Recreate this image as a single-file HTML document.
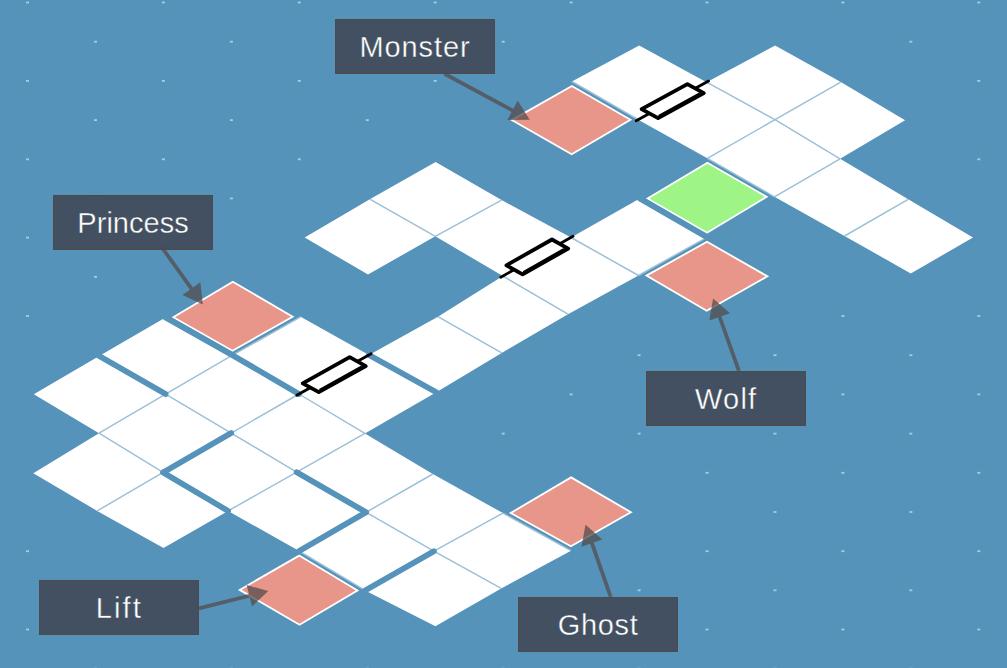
<!DOCTYPE html>
<html><head><meta charset="utf-8"><style>
html,body{margin:0;padding:0;}
body{width:1007px;height:668px;overflow:hidden;background:#5593bb;position:relative;font-family:"Liberation Sans",sans-serif;}
svg{position:absolute;left:0;top:0;}
.lb{position:absolute;width:160px;height:55px;background:rgba(65,76,92,0.95);color:#ffffff;font-size:29px;line-height:55px;text-align:center;box-sizing:border-box;padding-top:1px;white-space:nowrap;-webkit-text-stroke:0.35px rgb(65,76,92);box-shadow:inset 0 0 0 1px rgba(82,72,72,0.9);}
</style></head><body>
<svg width="1007" height="668" viewBox="0 0 1007 668">
<g fill="#abcbe0"><rect x="26.0" y="1.6" width="3" height="1.8"/><rect x="26.0" y="80.0" width="3" height="1.8"/><rect x="26.0" y="158.4" width="3" height="1.8"/><rect x="26.0" y="236.7" width="3" height="1.8"/><rect x="26.0" y="315.1" width="3" height="1.8"/><rect x="26.0" y="550.3" width="3" height="1.8"/><rect x="26.0" y="628.6" width="3" height="1.8"/><rect x="94.0" y="40.8" width="3" height="1.8"/><rect x="94.0" y="119.2" width="3" height="1.8"/><rect x="94.0" y="197.5" width="3" height="1.8"/><rect x="94.0" y="275.9" width="3" height="1.8"/><rect x="94.0" y="589.4" width="3" height="1.8"/><rect x="94.0" y="667.8" width="3" height="1.8"/><rect x="161.9" y="1.6" width="3" height="1.8"/><rect x="161.9" y="80.0" width="3" height="1.8"/><rect x="161.9" y="158.4" width="3" height="1.8"/><rect x="161.9" y="236.7" width="3" height="1.8"/><rect x="161.9" y="628.6" width="3" height="1.8"/><rect x="229.9" y="40.8" width="3" height="1.8"/><rect x="229.9" y="119.2" width="3" height="1.8"/><rect x="229.9" y="197.5" width="3" height="1.8"/><rect x="229.9" y="667.8" width="3" height="1.8"/><rect x="297.8" y="1.6" width="3" height="1.8"/><rect x="297.8" y="80.0" width="3" height="1.8"/><rect x="297.8" y="158.4" width="3" height="1.8"/><rect x="365.8" y="40.8" width="3" height="1.8"/><rect x="365.8" y="119.2" width="3" height="1.8"/><rect x="365.8" y="667.8" width="3" height="1.8"/><rect x="433.7" y="1.6" width="3" height="1.8"/><rect x="433.7" y="80.0" width="3" height="1.8"/><rect x="501.7" y="40.8" width="3" height="1.8"/><rect x="501.7" y="432.7" width="3" height="1.8"/><rect x="501.7" y="667.8" width="3" height="1.8"/><rect x="569.6" y="1.6" width="3" height="1.8"/><rect x="569.6" y="393.5" width="3" height="1.8"/><rect x="569.6" y="628.6" width="3" height="1.8"/><rect x="637.6" y="354.3" width="3" height="1.8"/><rect x="637.6" y="432.7" width="3" height="1.8"/><rect x="637.6" y="589.4" width="3" height="1.8"/><rect x="637.6" y="667.8" width="3" height="1.8"/><rect x="705.5" y="1.6" width="3" height="1.8"/><rect x="705.5" y="393.5" width="3" height="1.8"/><rect x="705.5" y="471.9" width="3" height="1.8"/><rect x="705.5" y="550.3" width="3" height="1.8"/><rect x="705.5" y="628.6" width="3" height="1.8"/><rect x="773.5" y="354.3" width="3" height="1.8"/><rect x="773.5" y="432.7" width="3" height="1.8"/><rect x="773.5" y="511.1" width="3" height="1.8"/><rect x="773.5" y="589.4" width="3" height="1.8"/><rect x="773.5" y="667.8" width="3" height="1.8"/><rect x="841.4" y="1.6" width="3" height="1.8"/><rect x="841.4" y="315.1" width="3" height="1.8"/><rect x="841.4" y="393.5" width="3" height="1.8"/><rect x="841.4" y="471.9" width="3" height="1.8"/><rect x="841.4" y="550.3" width="3" height="1.8"/><rect x="841.4" y="628.6" width="3" height="1.8"/><rect x="909.4" y="40.8" width="3" height="1.8"/><rect x="909.4" y="354.3" width="3" height="1.8"/><rect x="909.4" y="432.7" width="3" height="1.8"/><rect x="909.4" y="511.1" width="3" height="1.8"/><rect x="909.4" y="589.4" width="3" height="1.8"/><rect x="909.4" y="667.8" width="3" height="1.8"/><rect x="977.3" y="1.6" width="3" height="1.8"/><rect x="977.3" y="80.0" width="3" height="1.8"/><rect x="977.3" y="158.4" width="3" height="1.8"/><rect x="977.3" y="315.1" width="3" height="1.8"/><rect x="977.3" y="393.5" width="3" height="1.8"/><rect x="977.3" y="471.9" width="3" height="1.8"/><rect x="977.3" y="550.3" width="3" height="1.8"/><rect x="977.3" y="628.6" width="3" height="1.8"/></g>
<g fill="#ffffff"><polygon points="775.1,45.6 840.8,82.1 775.0,119.7 706.6,82.2"/><polygon points="840.8,82.1 905.1,120.2 840.1,158.8 775.0,119.7"/><polygon points="639.2,45.4 706.6,82.2 638.2,119.7 571.9,81.5"/><polygon points="706.6,82.2 775.0,119.7 707.4,158.3 638.2,119.7"/><polygon points="775.0,119.7 840.1,158.8 774.4,196.8 707.4,158.3"/><polygon points="840.1,158.8 908.2,199.3 844.5,236.0 774.4,196.8"/><polygon points="908.2,199.3 973.0,237.6 910.8,273.4 844.5,236.0"/><polygon points="435.6,162.0 501.6,200.1 435.3,236.3 369.8,199.2"/><polygon points="369.8,199.2 435.3,236.3 368.0,274.5 304.7,237.6"/><polygon points="501.6,200.1 571.0,237.5 502.9,276.1 435.3,236.3"/><polygon points="639.8,198.6 707.0,237.3 638.5,275.5 571.0,237.5"/><polygon points="571.0,237.5 638.5,275.5 568.0,314.2 502.9,276.1"/><polygon points="502.9,276.1 568.0,314.2 501.7,352.9 437.9,316.7"/><polygon points="437.9,316.7 501.7,352.9 436.3,392.2 369.0,355.0"/><polygon points="300.6,316.8 369.0,355.0 298.9,394.0 232.5,355.2"/><polygon points="369.0,355.0 436.3,392.2 364.9,433.4 298.9,394.0"/><polygon points="165.5,317.4 232.5,355.2 165.6,394.1 99.2,356.0"/><polygon points="232.5,355.2 298.9,394.0 231.2,433.1 165.6,394.1"/><polygon points="298.9,394.0 364.9,433.4 296.7,472.2 231.2,433.1"/><polygon points="99.2,356.0 165.6,394.1 99.0,433.2 33.8,394.3"/><polygon points="165.6,394.1 231.2,433.1 163.1,472.4 99.0,433.2"/><polygon points="99.0,433.2 163.1,472.4 97.2,510.9 33.3,473.2"/><polygon points="231.2,433.1 296.7,472.2 228.1,510.9 163.1,472.4"/><polygon points="163.1,472.4 228.1,510.9 163.5,548.0 97.2,510.9"/><polygon points="364.9,433.4 432.8,474.0 366.1,512.3 296.7,472.2"/><polygon points="296.7,472.2 366.1,512.3 299.2,551.1 228.1,510.9"/><polygon points="432.8,474.0 502.9,513.1 433.9,551.2 366.1,512.3"/><polygon points="366.1,512.3 433.9,551.2 365.1,590.4 299.2,551.1"/><polygon points="502.9,513.1 571.0,550.7 501.2,588.4 433.9,551.2"/><polygon points="433.9,551.2 501.2,588.4 435.4,626.3 365.1,590.4"/></g>
<path d="M571.9,81.5L638.2,119.7M369.8,199.2L435.3,236.3M706.6,82.2L638.2,119.7M706.6,82.2L775.0,119.7M501.6,200.1L435.3,236.3M300.6,316.8L232.5,355.2M232.5,355.2L165.6,394.1M165.6,394.1L99.0,433.2M165.6,394.1L231.2,433.1M99.0,433.2L163.1,472.4M840.8,82.1L775.0,119.7M775.0,119.7L707.4,158.3M775.0,119.7L840.1,158.8M707.4,158.3L774.4,196.8M571.0,237.5L502.9,276.1M571.0,237.5L638.5,275.5M502.9,276.1L568.0,314.2M437.9,316.7L501.7,352.9M369.0,355.0L298.9,394.0M298.9,394.0L231.2,433.1M298.9,394.0L364.9,433.4M231.2,433.1L296.7,472.2M163.1,472.4L97.2,510.9M840.1,158.8L774.4,196.8M707.0,237.3L638.5,275.5M364.9,433.4L296.7,472.2M296.7,472.2L228.1,510.9M908.2,199.3L844.5,236.0M432.8,474.0L366.1,512.3M366.1,512.3L433.9,551.2M299.2,551.1L365.1,590.4M502.9,513.1L433.9,551.2M502.9,513.1L571.0,550.7M433.9,551.2L501.2,588.4" stroke="#9cc0d8" stroke-width="1.45" fill="none"/>
<polygon points="571.9,86.0 630.5,119.7 571.7,154.2 511.8,120.1" fill="#e8968a" stroke="#ffffff" stroke-width="1.8" stroke-linejoin="miter"/>
<polygon points="707.0,241.8 767.4,276.3 706.7,310.8 646.4,275.6" fill="#e8968a" stroke="#ffffff" stroke-width="1.8" stroke-linejoin="miter"/>
<polygon points="232.8,281.7 292.7,316.7 232.5,350.7 173.3,317.3" fill="#e8968a" stroke="#ffffff" stroke-width="1.8" stroke-linejoin="miter"/>
<polygon points="299.2,555.6 357.5,590.4 299.5,624.8 239.7,589.9" fill="#e8968a" stroke="#ffffff" stroke-width="1.8" stroke-linejoin="miter"/>
<polygon points="571.1,477.4 630.9,512.2 570.9,546.2 510.7,513.0" fill="#e8968a" stroke="#ffffff" stroke-width="1.8" stroke-linejoin="miter"/>
<polygon points="707.4,162.8 766.7,196.8 707.0,232.8 647.6,198.5" fill="#9ef585" stroke="#ffffff" stroke-width="1.8" stroke-linejoin="miter"/>
<path d="M639.8,198.6L707.0,237.3M369.0,355.0L436.3,392.2M99.2,356.0L165.6,394.1M165.5,317.4L232.5,355.2M232.5,355.2L298.9,394.0M231.2,433.1L163.1,472.4M163.1,472.4L228.1,510.9M296.7,472.2L366.1,512.3M366.1,512.3L299.2,551.1M433.9,551.2L365.1,590.4" stroke="#5593bb" stroke-width="5.8" fill="none" stroke-linecap="round"/>
<path d="M708.6,81.1L636.2,120.8" stroke="#000" stroke-width="2.8" stroke-linecap="round"/>
<polygon points="687.4,84.1 641.6,109.2 658.1,118.2 703.8,93.1" fill="#fff" stroke="#000" stroke-width="3.8" stroke-linejoin="round"/>
<path d="M699.7,93.4L658.7,115.9" stroke="#000" stroke-width="2.2"/>
<path d="M573.0,236.3L500.8,277.2" stroke="#000" stroke-width="2.8" stroke-linecap="round"/>
<polygon points="552.0,239.5 506.4,265.3 522.6,274.4 568.2,248.6" fill="#fff" stroke="#000" stroke-width="3.8" stroke-linejoin="round"/>
<path d="M564.1,249.0L523.3,272.1" stroke="#000" stroke-width="2.2"/>
<path d="M371.1,353.8L296.8,395.2" stroke="#000" stroke-width="2.8" stroke-linecap="round"/>
<polygon points="349.7,357.2 302.7,383.3 318.8,392.2 365.8,366.1" fill="#fff" stroke="#000" stroke-width="3.8" stroke-linejoin="round"/>
<path d="M361.7,366.5L319.6,389.9" stroke="#000" stroke-width="2.2"/>
<polygon points="443.6,75.5 511.6,112.1 507.3,120.1 529.7,119.7 517.7,100.8 513.4,108.8 445.4,72.1" fill="rgba(84,78,78,0.76)"/>
<polygon points="159.8,247.7 189.9,289.8 182.5,295.1 202.8,304.5 200.4,282.2 193.0,287.5 162.8,245.5" fill="rgba(84,78,78,0.76)"/>
<polygon points="740.7,370.2 721.4,316.2 730.0,313.2 713.1,298.5 709.3,320.6 717.9,317.5 737.1,371.4" fill="rgba(84,78,78,0.76)"/>
<polygon points="199.3,610.2 249.8,597.6 252.1,606.4 268.3,591.0 246.7,585.1 248.9,593.9 198.3,606.6" fill="rgba(84,78,78,0.76)"/>
<polygon points="612.5,596.3 593.7,542.5 602.3,539.5 585.5,524.7 581.5,546.7 590.1,543.7 608.9,597.5" fill="rgba(84,78,78,0.76)"/>
</svg>
<div class="lb" style="left:335.0px;top:19.2px;letter-spacing:0.9px">Monster</div>
<div class="lb" style="left:53.1px;top:195.3px;letter-spacing:0.05px">Princess</div>
<div class="lb" style="left:646.2px;top:371.3px;letter-spacing:1.25px">Wolf</div>
<div class="lb" style="left:39.4px;top:580.4px;letter-spacing:2.1px">Lift</div>
<div class="lb" style="left:518.1px;top:596.9px;letter-spacing:0.7px">Ghost</div>
</body></html>
